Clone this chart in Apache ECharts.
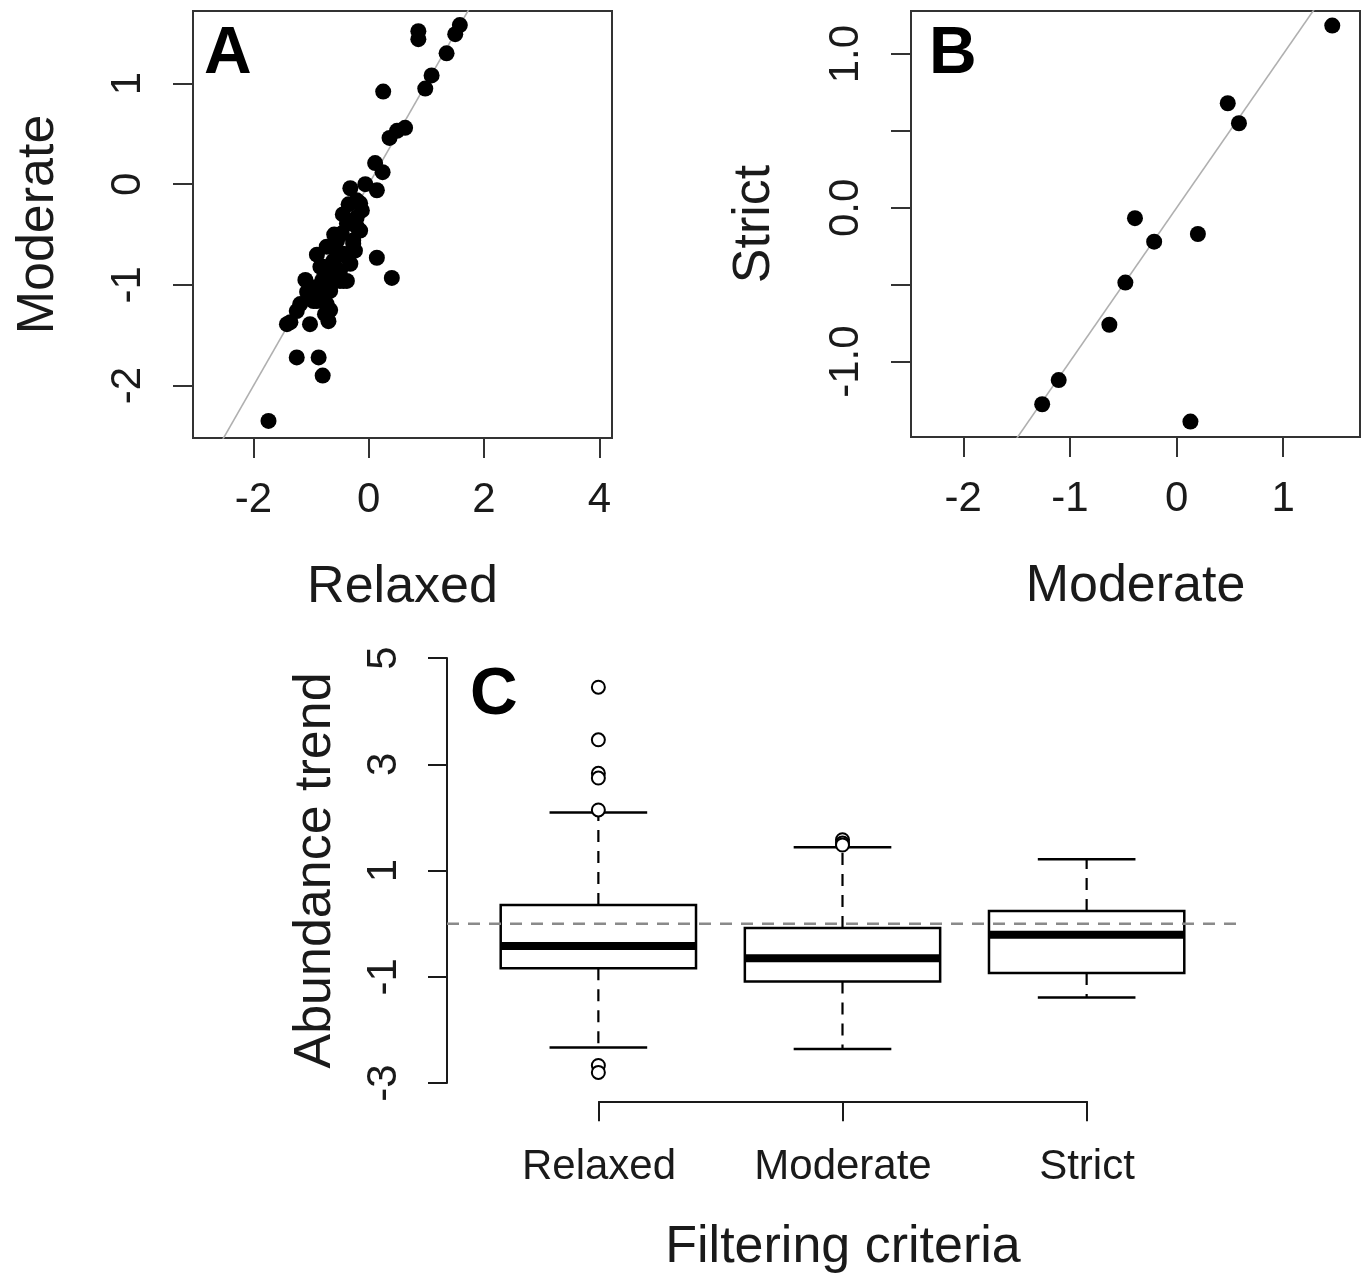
<!DOCTYPE html>
<html>
<head>
<meta charset="utf-8">
<script src="https://cdn.jsdelivr.net/npm/echarts@6/dist/echarts.min.js"></script>
<style>
  html, body { margin: 0; padding: 0; background: #fff; }
  #chart { width: 1367px; height: 1274px; }
</style>
</head>
<body>
<div id="chart"></div>
<script>
// Panel A: Relaxed (x) vs Moderate (y)
const aRelaxed = [0.86, 0.86, 1.58, 1.50, 1.35, 1.09, 0.98, 0.25, 0.63, 0.49, 0.36, 0.11, 0.24,
  -0.32, -0.06, 0.14, -0.21, -0.12, -0.38, -0.21, -0.47, -0.27, -0.73, -0.56, -0.24, -0.38, 0.14,
  -0.79, -0.61, 0.40, -0.44, -0.67, -1.07, -0.84, -0.96, -0.73, -1.25, -0.76, -1.36, -1.02, -0.70,
  -1.25, -0.87, -0.80, -1.74, -0.15, -0.21, -0.15, -0.55, -0.27, -0.44, -0.61, -0.84, -0.50, -0.32,
  -0.73, -0.50, -0.38, -0.90, -0.67, -0.90, -1.19, -0.67, -1.42, -0.60, -0.45, -0.35, -0.90, -1.10,
  -0.80, -0.55];
const aModerate = [1.52, 1.44, 1.58, 1.49, 1.30, 1.08, 0.95, 0.92, 0.56, 0.53, 0.46, 0.21, 0.12,
  -0.04, 0.00, -0.06, -0.16, -0.26, -0.39, -0.42, -0.49, -0.56, -0.62, -0.66, -0.66, -0.72, -0.73,
  -0.82, -0.79, -0.93, -0.96, -1.01, -1.07, -1.07, -1.16, -1.19, -1.26, -1.29, -1.37, -1.39, -1.36,
  -1.72, -1.72, -1.90, -2.35, -0.19, -0.33, -0.46, -0.56, -0.59, -0.69, -0.76, -0.82, -0.86, -0.79,
  -0.92, -0.96, -0.96, -1.02, -1.06, -1.16, -1.19, -1.25, -1.39, -0.50, -0.30, -0.20, -0.70, -0.95,
  -0.95, -0.85];

// Panel B: Moderate (x) vs Strict (y)
const bModerate = [1.46, 0.48, 0.585, -0.39, -0.21, 0.20, -0.48, -0.63, -1.105, -1.26, 0.13];
const bStrict = [1.185, 0.68, 0.55, -0.067, -0.22, -0.17, -0.486, -0.76, -1.12, -1.277, -1.39];

// Panel C: boxplot statistics of abundance trend
const boxCategories = ['Relaxed', 'Moderate', 'Strict'];
const boxLow = [-2.33, -2.36, -1.39];
const boxQ1 = [-0.84, -1.09, -0.93];
const boxMedian = [-0.42, -0.65, -0.21];
const boxQ3 = [0.35, -0.08, 0.24];
const boxHigh = [2.09, 1.44, 1.21];
const outliers = [[4.45, 3.46, 2.83, 2.74, 2.14, -2.67, -2.80], [1.58, 1.52, 1.48], []];

// axis tick values
const aXTicks = [-2, 0, 2, 4];
const aYTicks = [-2, -1, 0, 1];
const bXTicks = [-2, -1, 0, 1];
const bYTicks = [-1, -0.5, 0, 0.5, 1];
const bYLabels = [-1, 0, 1];
const cYTicks = [-3, -1, 1, 3, 5];

const FONT = '"Liberation Sans", Arial, sans-serif';
const INK = '#1a1a1a';
const tickLabel = { fontSize: 42, color: INK, fontFamily: FONT };
const titleText = { fontSize: 52, color: INK, fontFamily: FONT };

function frameAxis(extra) {
  return Object.assign({
    type: 'value',
    axisLine: { show: false, onZero: false },
    splitLine: { show: false }
  }, extra);
}

function ticks(values) {
  return { show: true, inside: false, length: 20, customValues: values, lineStyle: { color: '#333', width: 2 } };
}

const chart = echarts.init(document.getElementById('chart'), null, { renderer: 'canvas' });

const option = {
  backgroundColor: '#fff',
  animation: false,
  grid: [
    { left: 193, top: 11, width: 419, height: 427, show: true, borderColor: '#333', borderWidth: 2, backgroundColor: 'transparent' },
    { left: 911, top: 11, width: 449, height: 426, show: true, borderColor: '#333', borderWidth: 2, backgroundColor: 'transparent' },
    { left: 447, top: 641, width: 791, height: 459 },
    { left: 447, top: 658, width: 791, height: 425 },
    { left: 599, top: 1101, width: 488, height: 1 }
  ],
  xAxis: [
    frameAxis({ gridIndex: 0, min: -3.05, max: 4.22, axisTick: ticks(aXTicks),
      axisLabel: Object.assign({ margin: 41, customValues: aXTicks }, tickLabel),
      name: 'Relaxed', nameLocation: 'middle', nameGap: 124, nameTextStyle: titleText }),
    frameAxis({ gridIndex: 1, min: -2.49, max: 1.72, axisTick: ticks(bXTicks),
      axisLabel: Object.assign({ margin: 41, customValues: bXTicks }, tickLabel),
      name: 'Moderate', nameLocation: 'middle', nameGap: 124, nameTextStyle: titleText }),
    { type: 'value', gridIndex: 2, min: 0.38, max: 3.62, show: false },
    { type: 'value', gridIndex: 3, min: 0.38, max: 3.62, show: false },
    { type: 'category', gridIndex: 4, data: boxCategories, boundaryGap: false, position: 'bottom',
      axisLine: { show: true, onZero: false, lineStyle: { color: INK, width: 2 } },
      axisTick: { show: true, length: 20, lineStyle: { color: INK, width: 2 } },
      axisLabel: Object.assign({ margin: 45 }, tickLabel),
      name: 'Filtering criteria', nameLocation: 'middle', nameGap: 120, nameTextStyle: titleText }
  ],
  yAxis: [
    frameAxis({ gridIndex: 0, min: -2.52, max: 1.72, axisTick: ticks(aYTicks),
      axisLabel: Object.assign({ margin: 44, rotate: 90, customValues: aYTicks }, tickLabel),
      name: 'Moderate', nameLocation: 'middle', nameRotate: 90, nameGap: 128, nameTextStyle: titleText }),
    frameAxis({ gridIndex: 1, min: -1.49, max: 1.28, axisTick: ticks(bYTicks),
      axisLabel: Object.assign({ margin: 44, rotate: 90, customValues: bYLabels,
        formatter: v => v.toFixed(1) }, tickLabel),
      name: 'Strict', nameLocation: 'middle', nameRotate: 90, nameGap: 130, nameTextStyle: titleText }),
    { type: 'value', gridIndex: 2, min: -3.32, max: 5.32, show: false },
    { type: 'value', gridIndex: 3, min: -3, max: 5,
      axisLine: { show: true, onZero: false, lineStyle: { color: INK, width: 2 } },
      splitLine: { show: false },
      axisTick: { show: true, length: 19, customValues: cYTicks, lineStyle: { color: INK, width: 2 } },
      axisLabel: Object.assign({ margin: 42, rotate: 90, customValues: cYTicks }, tickLabel),
      name: 'Abundance trend', nameLocation: 'middle', nameRotate: 90, nameGap: 105, nameTextStyle: titleText },
    { type: 'value', gridIndex: 4, show: false }
  ],
  series: [
    { type: 'line', xAxisIndex: 0, yAxisIndex: 0, data: [[-5, -5], [5, 5]], clip: true, symbol: 'none',
      lineStyle: { color: '#b0b0b0', width: 1.6 }, z: 1 },
    { type: 'scatter', xAxisIndex: 0, yAxisIndex: 0, symbol: 'circle', symbolSize: 16,
      itemStyle: { color: '#000', opacity: 1 }, data: aRelaxed.map((x, i) => [x, aModerate[i]]), z: 2 },
    { type: 'line', xAxisIndex: 1, yAxisIndex: 1, data: [[-5, -5], [5, 5]], clip: true, symbol: 'none',
      lineStyle: { color: '#b0b0b0', width: 1.6 }, z: 1 },
    { type: 'scatter', xAxisIndex: 1, yAxisIndex: 1, symbol: 'circle', symbolSize: 16,
      itemStyle: { color: '#000', opacity: 1 }, data: bModerate.map((x, i) => [x, bStrict[i]]), z: 2 },
    {
      type: 'custom', xAxisIndex: 2, yAxisIndex: 2, clip: false,
      data: boxCategories.map((c, i) => [i + 1, boxLow[i], boxQ1[i], boxMedian[i], boxQ3[i], boxHigh[i]]),
      encode: { x: 0, y: [1, 2, 3, 4, 5] },
      renderItem: function (params, api) {
        const x = api.value(0);
        const lo = api.coord([x, api.value(1)]);
        const q1 = api.coord([x, api.value(2)]);
        const md = api.coord([x, api.value(3)]);
        const q3 = api.coord([x, api.value(4)]);
        const hi = api.coord([x, api.value(5)]);
        const bl = api.coord([x - 0.4, 0])[0], br = api.coord([x + 0.4, 0])[0];
        const cl = api.coord([x - 0.2, 0])[0], cr = api.coord([x + 0.2, 0])[0];
        const solid = { stroke: '#000', lineWidth: 2.5, fill: null };
        const dash = { stroke: '#000', lineWidth: 2.2, lineDash: [12, 9], fill: null };
        return {
          type: 'group',
          children: [
            { type: 'line', shape: { x1: q3[0], y1: q3[1], x2: hi[0], y2: hi[1] }, style: dash },
            { type: 'line', shape: { x1: q1[0], y1: q1[1], x2: lo[0], y2: lo[1] }, style: dash },
            { type: 'line', shape: { x1: cl, y1: hi[1], x2: cr, y2: hi[1] }, style: solid },
            { type: 'line', shape: { x1: cl, y1: lo[1], x2: cr, y2: lo[1] }, style: solid },
            { type: 'rect', shape: { x: bl, y: q3[1], width: br - bl, height: q1[1] - q3[1] }, style: solid },
            { type: 'line', shape: { x1: bl, y1: md[1], x2: br, y2: md[1] }, style: { stroke: '#000', lineWidth: 8 } }
          ]
        };
      },
      z: 2
    },
    { type: 'scatter', xAxisIndex: 2, yAxisIndex: 2, symbol: 'emptyCircle', symbolSize: 13,
      itemStyle: { color: '#000', borderColor: '#000', borderWidth: 2, opacity: 1 },
      data: outliers.flatMap((vals, i) => vals.map(v => [i + 1, v])), z: 5 },
    { type: 'line', xAxisIndex: 2, yAxisIndex: 2, data: [[0.38, 0], [3.62, 0]], symbol: 'none',
      lineStyle: { color: '#8a8a8a', width: 2.5, type: [12, 9] }, z: 4 }
  ],
  graphic: [
    { type: 'text', left: 204, top: 22, style: { text: 'A', font: 'bold 66px "Liberation Sans", Arial, sans-serif', fill: '#000' } },
    { type: 'text', left: 929, top: 22, style: { text: 'B', font: 'bold 66px "Liberation Sans", Arial, sans-serif', fill: '#000' } },
    { type: 'text', left: 470, top: 663, style: { text: 'C', font: 'bold 66px "Liberation Sans", Arial, sans-serif', fill: '#000' } }
  ]
};

chart.setOption(option);
</script>
</body>
</html>
